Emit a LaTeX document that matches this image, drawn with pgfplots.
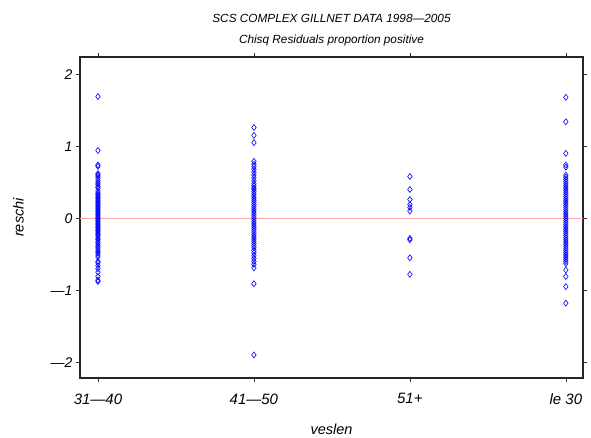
\documentclass[border=0pt]{standalone}
\usepackage{fontspec}
\setmainfont{Liberation Sans}
\usepackage{pgfplots}
\pgfplotsset{compat=1.18}
\begin{document}
\begin{tikzpicture}
\begin{axis}[
  scale only axis, width=503pt, height=321pt,
  xmin=-0.115, xmax=3.11, ymin=-2.22, ymax=2.24,
  xtick={0,1,2,3}, xticklabels={31—40,41—50,51+,le\ 30},
  ytick={-2,-1,0,1,2}, yticklabels={—2,—1,0,1,2},
  tick align=outside, major tick length=4pt,
  tick style={black!80, line width=0.5pt},
  axis line style={line width=1.6pt, black!85},
  yticklabel style={font=\fontsize{14}{16}\selectfont\itshape},
  xticklabel style={font=\fontsize{15}{17}\selectfont\itshape, yshift=-8pt},
  xlabel={\fontsize{14.5}{16}\selectfont\itshape veslen},
  ylabel={\fontsize{14.5}{16}\selectfont\itshape reschi},
  xlabel style={yshift=-13pt},
  ylabel style={yshift=20pt},
  title style={align=center, yshift=2pt},
  title={\fontsize{11.8}{14}\selectfont\itshape SCS COMPLEX GILLNET DATA 1998—2005\\[9pt]\fontsize{11.8}{14}\selectfont\itshape Chisq Residuals proportion positive},
  clip=false,
]
\addplot[red!35, line width=1.2pt] coordinates {(-0.115,0) (3.11,0)};
\addplot[only marks, mark=diamond, mark size=3pt, color=blue, mark options={line width=0.6pt, fill opacity=0}] coordinates {
(0,1.69)(0,0.94)(0,0.74)(0,0.72)(0,0.62)(0,0.60)(0,0.58)(0,0.55)(0,0.52)(0,0.49)(0,0.47)(0,0.44)(0,0.42)(0,0.38)(0,0.35)(0,0.33)(0,0.31)(0,0.29)(0,0.27)(0,0.25)(0,0.23)(0,0.21)(0,0.19)(0,0.17)(0,0.15)(0,0.13)(0,0.11)(0,0.09)(0,0.07)(0,0.05)(0,0.03)(0,0.01)(0,-0.01)(0,-0.03)(0,-0.05)(0,-0.07)(0,-0.09)(0,-0.11)(0,-0.13)(0,-0.15)(0,-0.17)(0,-0.19)(0,-0.21)(0,-0.23)(0,-0.25)(0,-0.28)(0,-0.30)(0,-0.33)(0,-0.35)(0,-0.38)(0,-0.40)(0,-0.43)(0,-0.46)(0,-0.48)(0,-0.51)(0,-0.54)(0,-0.60)(0,-0.62)(0,-0.66)(0,-0.70)(0,-0.75)(0,-0.81)(0,-0.86)(0,-0.88)
(1,1.26)(1,1.15)(1,1.05)(1,0.79)(1,0.75)(1,0.72)(1,0.68)(1,0.64)(1,0.60)(1,0.56)(1,0.52)(1,0.48)(1,0.45)(1,0.42)(1,0.40)(1,0.37)(1,0.34)(1,0.31)(1,0.28)(1,0.25)(1,0.22)(1,0.19)(1,0.16)(1,0.13)(1,0.10)(1,0.07)(1,0.04)(1,0.01)(1,-0.02)(1,-0.05)(1,-0.08)(1,-0.11)(1,-0.14)(1,-0.17)(1,-0.20)(1,-0.23)(1,-0.26)(1,-0.29)(1,-0.32)(1,-0.35)(1,-0.38)(1,-0.41)(1,-0.45)(1,-0.48)(1,-0.52)(1,-0.56)(1,-0.60)(1,-0.64)(1,-0.69)(1,-0.91)(1,-1.90)
(2,0.58)(2,0.40)(2,0.26)(2,0.19)(2,0.15)(2,0.10)(2,-0.28)(2,-0.30)(2,-0.55)(2,-0.78)
(3,1.68)(3,1.34)(3,0.90)(3,0.74)(3,0.71)(3,0.60)(3,0.57)(3,0.54)(3,0.51)(3,0.48)(3,0.45)(3,0.42)(3,0.39)(3,0.36)(3,0.33)(3,0.30)(3,0.27)(3,0.24)(3,0.21)(3,0.18)(3,0.15)(3,0.12)(3,0.09)(3,0.06)(3,0.03)(3,0.00)(3,-0.03)(3,-0.06)(3,-0.09)(3,-0.12)(3,-0.15)(3,-0.18)(3,-0.21)(3,-0.24)(3,-0.27)(3,-0.30)(3,-0.33)(3,-0.36)(3,-0.39)(3,-0.42)(3,-0.45)(3,-0.48)(3,-0.51)(3,-0.54)(3,-0.57)(3,-0.60)(3,-0.63)(3,-0.72)(3,-0.81)(3,-0.95)(3,-1.18)
};
\end{axis}
\pgfresetboundingbox
\path ([shift={(-80pt,-60pt)}]current axis.south west) rectangle ([shift={(8pt,57pt)}]current axis.north east);
\end{tikzpicture}
\end{document}
